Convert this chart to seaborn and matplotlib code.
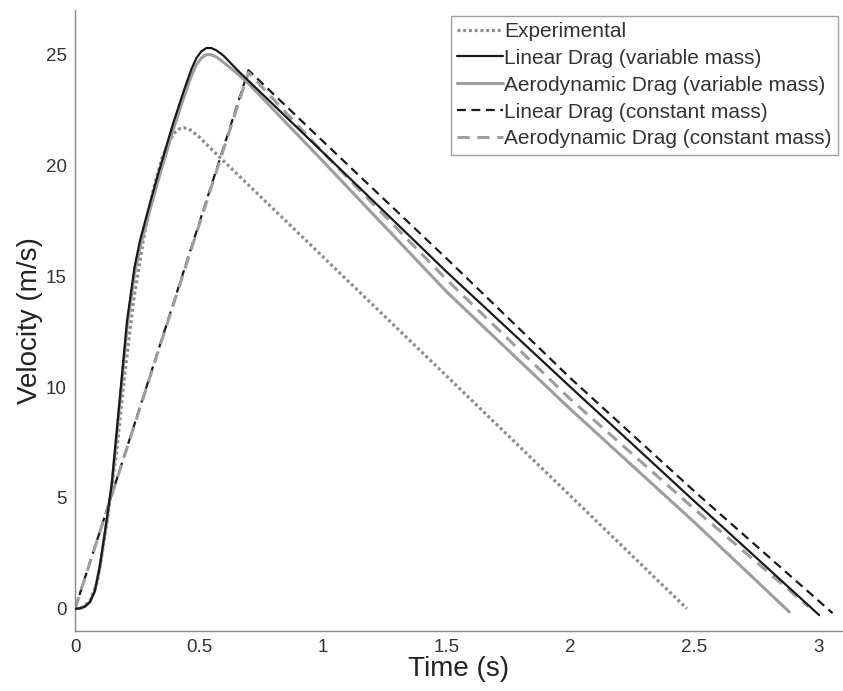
import matplotlib
matplotlib.use("Agg")
import matplotlib.pyplot as plt
import seaborn as sns
import pandas as pd

# --- data ---
# experimental
exp_t = [0.0, 0.03, 0.06, 0.09, 0.12, 0.145, 0.168, 0.20, 0.235, 0.275, 0.316, 0.35, 0.375, 0.40, 0.42,
         0.44, 0.46, 0.50, 0.6, 1.5, 2.47]
exp_v = [0.0, 0.05, 0.35, 1.2, 3.2, 5.2, 7.1, 10.5, 13.8, 16.6, 18.9, 20.3, 21.0, 21.45, 21.65,
         21.7, 21.65, 21.3, 20.2, 10.5, 0.0]

# linear drag, variable mass
lin_var_t = [0.0, 0.02, 0.04, 0.06, 0.08, 0.10, 0.125, 0.148, 0.18, 0.21, 0.24, 0.262, 0.30, 0.335, 0.396,
             0.44, 0.47, 0.49, 0.51, 0.53, 0.55, 0.57, 0.60, 0.63, 0.665,
             1.0, 1.5, 2.0, 2.5, 3.004]
lin_var_v = [0.0, 0.02, 0.1, 0.3, 0.8, 1.9, 3.8, 5.6, 9.4, 13.0, 15.4, 16.6, 18.2, 19.6, 21.9,
             23.4, 24.35, 24.85, 25.15, 25.3, 25.3, 25.2, 24.95, 24.6, 24.2,
             20.6, 15.2, 10.0, 4.85, -0.29]

# aerodynamic drag, variable mass
aero_var_t = [0.0, 0.02, 0.04, 0.06, 0.08, 0.10, 0.125, 0.148, 0.18, 0.21, 0.24, 0.262, 0.30, 0.335, 0.396,
              0.44, 0.47, 0.49, 0.51, 0.53, 0.55, 0.57, 0.60, 0.65, 0.70,
              1.0, 1.5, 2.0, 2.5, 2.883]
aero_var_v = [0.0, 0.02, 0.1, 0.3, 0.8, 1.9, 3.7, 5.5, 9.2, 12.7, 15.1, 16.3, 17.9, 19.3, 21.6,
              23.1, 24.05, 24.55, 24.85, 25.0, 25.0, 24.9, 24.65, 24.2, 23.7,
              20.2, 14.3, 9.0, 3.9, -0.14]

# linear drag, constant mass
lin_const_t = [0.0, 0.70, 1.0, 1.5, 2.0, 2.5, 3.058]
lin_const_v = [0.0, 24.3, 21.1, 15.8, 10.4, 5.3, -0.2]

# aerodynamic drag, constant mass
aero_const_t = [0.0, 0.70, 1.0, 1.5, 2.0, 2.5, 2.96]
aero_const_v = [0.0, 24.2, 20.6, 14.85, 9.45, 4.5, 0.1]

x_ticks = [0, 0.5, 1, 1.5, 2, 2.5, 3]
x_tick_labels = ["0", "0.5", "1", "1.5", "2", "2.5", "3"]
y_ticks = [0, 5, 10, 15, 20, 25]

sns.set_style("white")
plt.rcParams['font.family'] = ['Liberation Sans', 'DejaVu Sans']

fig = plt.figure(figsize=(8.43, 6.91), dpi=100)
ax = fig.add_axes([0.089, 0.087, 0.911, 0.898])

# zorder so the black lines sit on top of the grey ones, like the original
series = [
    (exp_t, exp_v, "Experimental", "#8c8c8c", (0, (0.9, 0.9)), 2.3, 3),
    (lin_var_t, lin_var_v, "Linear Drag (variable mass)", "#1a1a1a", "-", 1.6, 4),
    (aero_var_t, aero_var_v, "Aerodynamic Drag (variable mass)", "#9e9e9e", "-", 2.2, 3.5),
    (lin_const_t, lin_const_v, "Linear Drag (constant mass)", "#1a1a1a", (0, (4, 2.5)), 1.6, 2),
    (aero_const_t, aero_const_v, "Aerodynamic Drag (constant mass)", "#9e9e9e", (0, (4, 2.5)), 2.2, 2.5),
]
for t, v, name, col, ls, lw, z in series:
    df = pd.DataFrame({"t": t, "v": v})
    sns.lineplot(data=df, x="t", y="v", ax=ax, color=col, linestyle=ls, linewidth=lw,
                 label=name, zorder=z, sort=False)

ax.set_xlim(0, 3.1)
ax.set_ylim(-1, 27)
ax.set_xticks(x_ticks)
ax.set_xticklabels(x_tick_labels)
ax.set_yticks(y_ticks)
ax.tick_params(direction="in", length=7, width=0.8, color="#888888", labelsize=13.5,
               labelcolor="#333333", pad=6)
for side in ["top", "right"]:
    ax.spines[side].set_visible(False)
for side in ["left", "bottom"]:
    ax.spines[side].set_color("#888888")
    ax.spines[side].set_linewidth(1.0)

ax.set_xlabel("Time (s)", fontsize=20, color="#222222", labelpad=0)
ax.set_ylabel("Velocity (m/s)", fontsize=20, color="#222222", labelpad=2)

leg = ax.legend(loc="upper right", fontsize=15, frameon=True, fancybox=False,
                handlelength=2.2, handletextpad=0.05, borderaxespad=0.25,
                labelspacing=0.38, borderpad=0.3)
leg.get_frame().set_edgecolor("#888888")
leg.get_frame().set_linewidth(1.0)
for txt in leg.get_texts():
    txt.set_color("#333333")

fig.savefig("out.png", dpi=100)
